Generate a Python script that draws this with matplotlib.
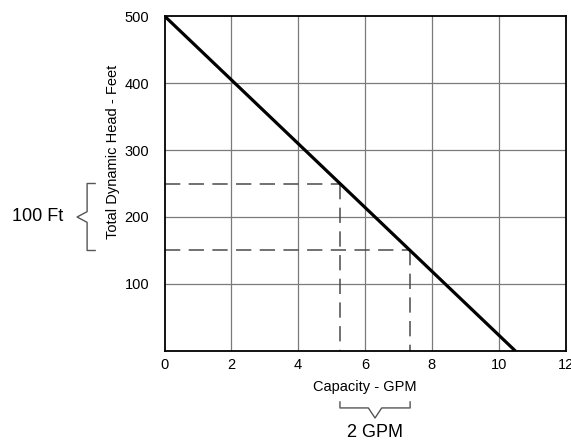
import numpy as np
import matplotlib
matplotlib.use('Agg')
import matplotlib.pyplot as plt

plt.rcParams['font.family'] = ['Liberation Sans', 'DejaVu Sans']

# pump curve: straight line from shutoff head to max flow
flow = [0, 10.5]
head = [500, 0]

# operating points used for the dashed guide lines
guide_head = [250, 150]
guide_flow = [5.25, 7.35]

x_ticks = [0, 2, 4, 6, 8, 10, 12]
y_ticks = [100, 200, 300, 400, 500]

fig = plt.figure(figsize=(5.71, 4.41), dpi=100)
ax = fig.add_axes([0.2881, 0.2041, 0.7023, 0.7596])

ax.set_xlim(0, 12)
ax.set_ylim(0, 500)
ax.set_xticks(x_ticks)
ax.set_yticks(y_ticks)
ax.tick_params(length=0, labelsize=10.5)
ax.tick_params(axis='x', pad=5)
ax.tick_params(axis='y', pad=11)

for v in x_ticks[1:-1]:
    ax.axvline(v, color='#7a7a7a', lw=0.9, zorder=1)
for v in y_ticks[:-1]:
    ax.axhline(v, color='#7a7a7a', lw=0.9, zorder=1)

for s in ax.spines.values():
    s.set_linewidth(1.3)
    s.set_color('black')

# dashed guides
for h, q in zip(guide_head, guide_flow):
    ax.plot([0, q], [h, h], color='#4a4a4a', lw=1.1, ls=(0, (10, 5.5)), zorder=2)
    ax.plot([q, q], [h, 0], color='#4a4a4a', lw=1.1, ls=(0, (10, 5.5)), zorder=2)

ax.plot(flow, head, color='black', lw=2.3, zorder=3, solid_capstyle='butt')

ax.text(-0.128, 0.593, 'Total Dynamic Head - Feet', transform=ax.transAxes,
        rotation=90, ha='center', va='center', fontsize=10.5)
ax.text(0.5, -0.107, 'Capacity - GPM', transform=ax.transAxes,
        ha='center', va='center', fontsize=10.5)

# left brace spanning the two guide heads
ty = ax.get_yaxis_transform()
h_lo, h_hi = min(guide_head), max(guide_head)
h_mid = (h_lo + h_hi) / 2
bx, btx, tip = -0.193, -0.173, -0.218
ax.plot([btx, bx, bx, tip, bx, bx, btx],
        [h_hi, h_hi, h_mid + 8, h_mid, h_mid - 8, h_lo, h_lo],
        transform=ty, color='#555555', lw=1.0, clip_on=False)
ax.text(-0.317, h_mid, '100 Ft', transform=ty, ha='center', va='center',
        fontsize=13)

# bottom brace spanning the two guide flows
tx = ax.get_xaxis_transform()
q_lo, q_hi = min(guide_flow), max(guide_flow)
q_mid = (q_lo + q_hi) / 2
by, bty, tipy = -0.170, -0.152, -0.200
ax.plot([q_lo, q_lo, q_mid - 0.2, q_mid, q_mid + 0.2, q_hi, q_hi],
        [bty, by, by, tipy, by, by, bty],
        transform=tx, color='#555555', lw=1.0, clip_on=False)
ax.text(q_mid, -0.242, '2 GPM', transform=tx, ha='center', va='center',
        fontsize=13)

fig.savefig('out.png', dpi=100)
